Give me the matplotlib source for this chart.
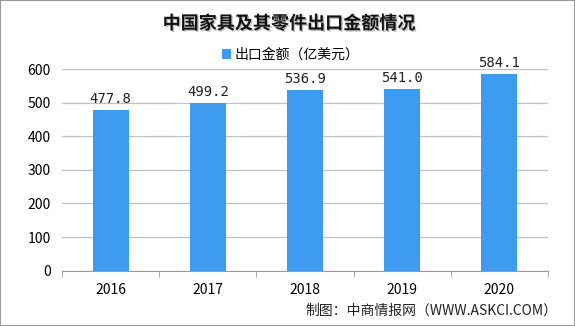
import matplotlib
matplotlib.use("Agg")
import matplotlib.pyplot as plt
import matplotlib.patheffects as pe
import numpy as np

plt.rcParams["font.family"] = ["Noto Sans CJK SC", "DejaVu Sans"]

years = ["2016", "2017", "2018", "2019", "2020"]
values = [477.8, 499.2, 536.9, 541.0, 584.1]
yticks = [0, 100, 200, 300, 400, 500, 600]

fig = plt.figure(figsize=(5.75, 3.26), dpi=100)
ax = fig.add_axes([0.108, 0.170, 0.845, 0.618])

x = np.arange(len(years))
ax.bar(x, values, width=0.37, color="#3d9cf0", zorder=3,
       label="出口金额（亿美元）")
for xi, v in zip(x, values):
    ax.annotate(f"{v:.1f}", (xi, v), xytext=(0, 3), textcoords="offset points",
                ha="center", va="bottom", fontsize=10,
                family=["DejaVu Sans Mono"], color="#222222")

ax.set_xlim(-0.5, len(years) - 0.5)
ax.set_ylim(0, 600)
ax.set_yticks(yticks)
ax.set_yticklabels([str(t) for t in yticks], fontsize=10)
ax.set_xticks(x)
ax.set_xticklabels(years, fontsize=10)
ax.set_xticks(np.arange(-0.5, len(years), 1.0), minor=True)
ax.tick_params(axis="x", which="major", length=0, pad=9)
ax.tick_params(axis="x", which="minor", length=4, color="#999999")
ax.tick_params(axis="y", length=0, pad=8)
ax.yaxis.grid(True, color="#c0c0c0", linewidth=0.9, zorder=0)
for s in ["top", "right", "left"]:
    ax.spines[s].set_visible(False)
ax.spines["bottom"].set_color("#999999")

fig.text(0.502, 0.928, "中国家具及其零件出口金额情况", ha="center", va="center",
         fontsize=13, fontweight="bold", color="#111111",
         path_effects=[pe.withSimplePatchShadow(offset=(1, -1), shadow_rgbFace="#999999", alpha=0.6)])
ax.legend(loc="center", bbox_to_anchor=(0.47, 1.07), frameon=False, fontsize=10,
          handlelength=0.7, handleheight=0.7, handletextpad=0.2, borderpad=0)
fig.text(0.969, 0.025, "制图：中商情报网（WWW.ASKCI.COM）", ha="right", va="bottom",
         fontsize=10, color="#222222")

fig.patches.append(plt.Rectangle((0, 0), 1, 1, transform=fig.transFigure,
                                 fill=False, edgecolor="#999999", linewidth=1.5))
fig.savefig("out.png", dpi=100)
